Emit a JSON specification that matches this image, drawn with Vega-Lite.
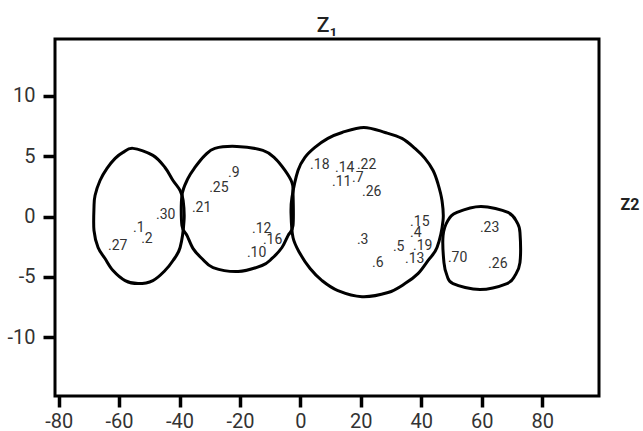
{
  "$schema": "https://vega.github.io/schema/vega-lite/v6.json",
  "autosize": "none",
  "width": 544,
  "height": 357,
  "padding": {"left": 55, "top": 39, "right": 44, "bottom": 35},
  "config": {
    "view": {"stroke": "black", "strokeWidth": 3},
    "font": "Roboto"
  },
  "title": {
    "text": "Z₁",
    "fontSize": 21,
    "fontWeight": 500,
    "color": "#222",
    "offset": 3,
    "anchor": "middle",
    "font": "Roboto"
  },
  "datasets": {
    "outlines": [
      {"group": "A", "i": 1, "x": -55.4, "y": 5.65},
      {"group": "A", "i": 2, "x": -48.8, "y": 5.07},
      {"group": "A", "i": 3, "x": -44.8, "y": 4.07},
      {"group": "A", "i": 4, "x": -42.15, "y": 2.99},
      {"group": "A", "i": 5, "x": -39.8, "y": 2.16},
      {"group": "A", "i": 6, "x": -38.8, "y": 1.33},
      {"group": "A", "i": 7, "x": -38.5, "y": -0.32},
      {"group": "A", "i": 8, "x": -39.8, "y": -2.56},
      {"group": "A", "i": 9, "x": -42.15, "y": -3.64},
      {"group": "A", "i": 10, "x": -44.8, "y": -4.47},
      {"group": "A", "i": 11, "x": -48.8, "y": -5.3},
      {"group": "A", "i": 12, "x": -53.7, "y": -5.55},
      {"group": "A", "i": 13, "x": -58.0, "y": -5.3},
      {"group": "A", "i": 14, "x": -62.0, "y": -4.47},
      {"group": "A", "i": 15, "x": -64.65, "y": -3.47},
      {"group": "A", "i": 16, "x": -66.95, "y": -2.56},
      {"group": "A", "i": 17, "x": -68.3, "y": -1.15},
      {"group": "A", "i": 18, "x": -68.3, "y": 0.75},
      {"group": "A", "i": 19, "x": -67.95, "y": 1.75},
      {"group": "A", "i": 20, "x": -66.3, "y": 2.99},
      {"group": "A", "i": 21, "x": -64.0, "y": 3.99},
      {"group": "A", "i": 22, "x": -61.3, "y": 4.82},
      {"group": "A", "i": 23, "x": -58.7, "y": 5.32},
      {"group": "B", "i": 1, "x": -21.0, "y": 5.81},
      {"group": "B", "i": 2, "x": -12.4, "y": 5.48},
      {"group": "B", "i": 3, "x": -8.4, "y": 4.82},
      {"group": "B", "i": 4, "x": -5.1, "y": 3.82},
      {"group": "B", "i": 5, "x": -2.8, "y": 2.83},
      {"group": "B", "i": 6, "x": -2.45, "y": 2.0},
      {"group": "B", "i": 7, "x": -2.45, "y": -0.74},
      {"group": "B", "i": 8, "x": -4.1, "y": -1.57},
      {"group": "B", "i": 9, "x": -6.1, "y": -2.56},
      {"group": "B", "i": 10, "x": -9.4, "y": -3.47},
      {"group": "B", "i": 11, "x": -12.7, "y": -4.05},
      {"group": "B", "i": 12, "x": -20.6, "y": -4.55},
      {"group": "B", "i": 13, "x": -28.9, "y": -4.22},
      {"group": "B", "i": 14, "x": -32.6, "y": -3.47},
      {"group": "B", "i": 15, "x": -35.5, "y": -2.65},
      {"group": "B", "i": 16, "x": -37.5, "y": -1.57},
      {"group": "B", "i": 17, "x": -39.2, "y": -0.74},
      {"group": "B", "i": 18, "x": -39.2, "y": 1.75},
      {"group": "B", "i": 19, "x": -37.2, "y": 3.16},
      {"group": "B", "i": 20, "x": -34.9, "y": 4.07},
      {"group": "B", "i": 21, "x": -31.6, "y": 5.07},
      {"group": "B", "i": 22, "x": -28.3, "y": 5.65},
      {"group": "C", "i": 1, "x": 21.0, "y": 7.39},
      {"group": "C", "i": 2, "x": 28.0, "y": 6.97},
      {"group": "C", "i": 3, "x": 33.6, "y": 6.48},
      {"group": "C", "i": 4, "x": 37.9, "y": 5.65},
      {"group": "C", "i": 5, "x": 41.2, "y": 4.82},
      {"group": "C", "i": 6, "x": 43.9, "y": 3.82},
      {"group": "C", "i": 7, "x": 45.5, "y": 2.74},
      {"group": "C", "i": 8, "x": 46.85, "y": 1.33},
      {"group": "C", "i": 9, "x": 47.2, "y": -0.32},
      {"group": "C", "i": 10, "x": 45.2, "y": -2.56},
      {"group": "C", "i": 11, "x": 42.2, "y": -3.64},
      {"group": "C", "i": 12, "x": 38.9, "y": -4.72},
      {"group": "C", "i": 13, "x": 34.6, "y": -5.55},
      {"group": "C", "i": 14, "x": 29.0, "y": -6.29},
      {"group": "C", "i": 15, "x": 20.4, "y": -6.63},
      {"group": "C", "i": 16, "x": 12.4, "y": -6.13},
      {"group": "C", "i": 17, "x": 7.15, "y": -5.3},
      {"group": "C", "i": 18, "x": 3.2, "y": -4.3},
      {"group": "C", "i": 19, "x": -0.13, "y": -3.06},
      {"group": "C", "i": 20, "x": -2.45, "y": -1.73},
      {"group": "C", "i": 21, "x": -3.1, "y": 0.26},
      {"group": "C", "i": 22, "x": -2.8, "y": 1.58},
      {"group": "C", "i": 23, "x": -0.8, "y": 3.82},
      {"group": "C", "i": 24, "x": 1.5, "y": 4.9},
      {"group": "C", "i": 25, "x": 4.8, "y": 5.73},
      {"group": "C", "i": 26, "x": 9.1, "y": 6.48},
      {"group": "C", "i": 27, "x": 13.8, "y": 6.97},
      {"group": "D", "i": 1, "x": 59.75, "y": 0.84},
      {"group": "D", "i": 2, "x": 68.7, "y": 0.34},
      {"group": "D", "i": 3, "x": 71.7, "y": -0.49},
      {"group": "D", "i": 4, "x": 72.65, "y": -1.32},
      {"group": "D", "i": 5, "x": 72.65, "y": -3.81},
      {"group": "D", "i": 6, "x": 71.0, "y": -4.88},
      {"group": "D", "i": 7, "x": 68.35, "y": -5.55},
      {"group": "D", "i": 8, "x": 59.4, "y": -6.04},
      {"group": "D", "i": 9, "x": 50.5, "y": -5.55},
      {"group": "D", "i": 10, "x": 48.5, "y": -4.88},
      {"group": "D", "i": 11, "x": 47.5, "y": -3.81},
      {"group": "D", "i": 12, "x": 47.2, "y": -1.57},
      {"group": "D", "i": 13, "x": 48.8, "y": -0.32},
      {"group": "D", "i": 14, "x": 51.8, "y": 0.34}
    ],
    "labels": [
      {"label": ".27", "x": -63.65, "y": -2.73},
      {"label": ".1", "x": -55.4, "y": -1.24},
      {"label": ".2", "x": -52.7, "y": -2.15},
      {"label": ".30", "x": -47.8, "y": -0.24},
      {"label": ".21", "x": -35.9, "y": 0.34},
      {"label": ".25", "x": -30.2, "y": 2.0},
      {"label": ".9", "x": -23.95, "y": 3.24},
      {"label": ".12", "x": -16.0, "y": -1.32},
      {"label": ".16", "x": -12.4, "y": -2.31},
      {"label": ".10", "x": -17.7, "y": -3.31},
      {"label": ".18", "x": 3.2, "y": 3.91},
      {"label": ".14", "x": 11.45, "y": 3.66},
      {"label": ".22", "x": 18.7, "y": 3.91},
      {"label": ".11", "x": 10.45, "y": 2.5},
      {"label": ".7", "x": 17.1, "y": 2.83},
      {"label": ".26", "x": 20.4, "y": 1.67},
      {"label": ".15", "x": 36.3, "y": -0.82},
      {"label": ".4", "x": 36.3, "y": -1.73},
      {"label": ".19", "x": 37.25, "y": -2.73},
      {"label": ".3", "x": 18.7, "y": -2.31},
      {"label": ".5", "x": 30.6, "y": -2.81},
      {"label": ".13", "x": 34.6, "y": -3.81},
      {"label": ".6", "x": 23.7, "y": -4.14},
      {"label": ".70", "x": 48.8, "y": -3.72},
      {"label": ".23", "x": 59.4, "y": -1.24},
      {"label": ".26", "x": 62.1, "y": -4.22}
    ]
  },
  "encoding": {
    "x": {
      "field": "x",
      "type": "quantitative",
      "scale": {"domain": [-81.2, 98.8], "nice": false, "zero": false},
      "axis": {
        "values": [-80, -60, -40, -20, 0, 20, 40, 60, 80],
        "labelExpr": "replace(datum.label, '−', '-')",
        "title": null,
        "domain": false,
        "grid": false,
        "tickColor": "black",
        "tickWidth": 3.5,
        "tickSize": 11,
        "labelFont": "Roboto",
        "labelFontSize": 20,
        "labelColor": "#333",
        "labelPadding": 4,
        "labelFlush": false,
        "labelOverlap": false
      }
    },
    "y": {
      "field": "y",
      "type": "quantitative",
      "scale": {"domain": [-14.86, 14.71], "nice": false, "zero": false},
      "axis": {
        "values": [-10, -5, 0, 5, 10],
        "labelExpr": "replace(datum.label, '−', '-')",
        "title": "Z2",
        "titleAngle": 0,
        "titleX": 565,
        "titleY": 170,
        "titleAlign": "left",
        "titleBaseline": "alphabetic",
        "titleFont": "Roboto",
        "titleFontSize": 16,
        "titleFontWeight": "bold",
        "titleColor": "#222",
        "domain": false,
        "grid": false,
        "tickColor": "black",
        "tickWidth": 3.5,
        "tickSize": 12,
        "labelFont": "Roboto",
        "labelFontSize": 20,
        "labelColor": "#333",
        "labelPadding": 8,
        "labelFlush": false,
        "labelOverlap": false
      }
    }
  },
  "layer": [
    {
      "data": {"name": "outlines"},
      "mark": {"type": "line", "interpolate": "cardinal-closed", "stroke": "black", "strokeWidth": 3},
      "encoding": {
        "detail": {"field": "group", "type": "nominal"},
        "order": {"field": "i", "type": "quantitative"}
      }
    },
    {
      "data": {"name": "labels"},
      "mark": {"type": "text", "align": "left", "baseline": "alphabetic", "font": "Roboto", "fontSize": 14, "color": "#333"},
      "encoding": {
        "text": {"field": "label", "type": "nominal"}
      }
    }
  ]
}
